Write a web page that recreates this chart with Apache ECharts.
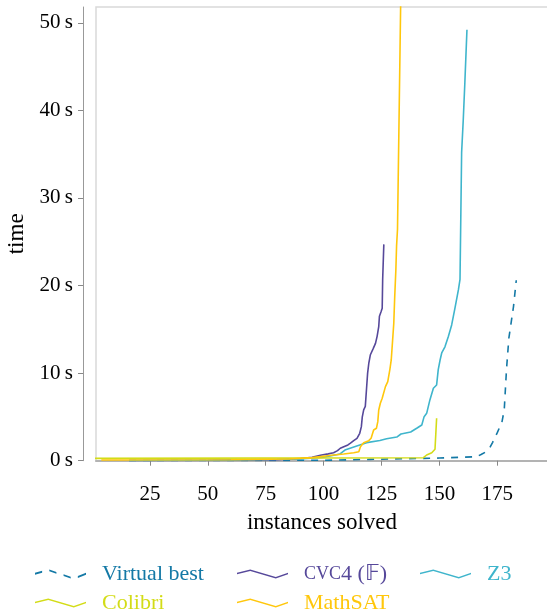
<!DOCTYPE html>
<html>
<head>
<meta charset="utf-8">
<script src="https://cdn.jsdelivr.net/npm/echarts@6/dist/echarts.min.js"></script>
<style>
  html, body { margin: 0; padding: 0; background: #fff; }
  #chart { width: 547px; height: 614px; }
</style>
</head>
<body>
<div id="chart"></div>
<script>
// tick labels
const xTicks = [25, 50, 75, 100, 125, 150, 175]
const yTicks = [0, 10, 20, 30, 40, 50]

// series names
const names = ['Virtual best', 'cvc4 (𝔽)', 'Z3', 'Colibri', 'MathSAT']

// [instances solved, time in s]
const virtualBest = [[16, 0.02], [60, 0.03], [100, 0.05], [120, 0.15], [140, 0.25], [150, 0.3], [160, 0.4], [166, 0.45],
  [168, 0.7], [170, 1.0], [172, 1.6], [173, 2.1], [175, 3.2], [176, 3.8], [177, 4.4], [178, 5.8], [179, 10.5],
  [180, 14], [181, 15.8], [182, 17.6], [183.2, 20.6]]
const cvc4 = [[16, 0.03], [50, 0.05], [80, 0.12], [90, 0.25], [95, 0.4], [98.6, 0.62], [102, 0.78], [104.3, 0.91],
  [106, 1.15], [107.2, 1.42], [108.7, 1.6], [110.5, 1.8], [111.6, 2.0], [113, 2.29], [114.4, 2.56], [115.6, 3.13],
  [116.3, 3.89], [116.7, 5.0], [117.3, 5.8], [118, 6.2], [118.5, 8.1], [119, 10], [119.5, 11.1], [120.2, 12.1],
  [121.4, 12.8], [122.4, 13.4], [123.1, 14.2], [123.8, 15.3], [124.1, 16.5], [124.8, 17.0], [125.3, 17.4],
  [125.5, 20.7], [126, 24.7]]
const z3 = [[16, 0.03], [60, 0.08], [90, 0.2], [100, 0.4], [107.1, 0.77], [109.2, 1.22], [114.3, 1.68], [118.6, 2.06],
  [124.3, 2.3], [127.2, 2.5], [131.6, 2.7], [133.4, 3.05], [137.6, 3.28], [140.2, 3.7], [142.4, 4.08], [143.4, 5.03],
  [144.5, 5.41], [145.9, 6.94], [147.4, 8.27], [148.8, 8.65], [149.5, 10.4], [150.3, 11.5], [151, 12.3],
  [152.4, 13.0], [153.9, 14.2], [155.3, 15.5], [156.7, 17.4], [158.2, 19.5], [158.9, 20.7], [159.6, 35.2],
  [160.3, 38.9], [161, 43.2], [161.9, 49.2]]
const colibri = [[1, 0.27], [143.1, 0.34], [144.5, 0.65], [146.7, 0.91], [148.1, 1.3], [148.8, 4.85]]
const mathsat = [[4, 0.08], [60, 0.1], [85, 0.2], [95, 0.35], [104.4, 0.65], [108.7, 0.77], [113, 0.91], [115.2, 1.03],
  [115.9, 1.6], [117.3, 2.06], [119.5, 2.29], [120.5, 2.56], [121.6, 3.51], [122.8, 3.7], [123.4, 4.46],
  [123.8, 5.79], [124.5, 6.56], [125.3, 7.13], [126.7, 8.46], [127.7, 9.03], [128.6, 10.4], [129.2, 11.5],
  [129.7, 13.4], [130.3, 15.7], [130.7, 18.7], [131.2, 21.8], [131.5, 24.5], [131.9, 26.4], [133, 47], [134, 66]]

const colors = ['#1479a6', '#56489a', '#3fb5cc', '#d3dc17', '#ffc70c']
const serif = 'Liberation Serif'

// wavy legend glyphs
const waveSolid = 'path://M0,3 L13,0 L38,7 L50,3 L50,4.5 L38,8.5 L13,1.5 L0,4.5 Z'
const waveDashed = 'path://M0,3 L7,1.38 L7,2.88 L0,4.5 Z M14,0.28 L21,2.24 L21,3.74 L14,1.78 Z ' +
  'M28,4.2 L35,6.16 L35,7.66 L28,5.7 Z M42,5.67 L50,3 L50,4.5 L42,7.17 Z'

// legend slots: [left, top]
const legendSlots = [[35, 563], [237, 563], [420, 563], [35, 592], [237, 592]]

const chart = echarts.init(document.getElementById('chart'))

function legendBox(i) {
  const textStyle = { color: colors[i], fontFamily: serif, fontSize: 22, lineHeight: 22, padding: [0, 0, 0, 11] }
  if (i === 1) {
    textStyle.rich = {
      sc: { fontFamily: serif, fontSize: 18, color: colors[1] },
      n: { fontFamily: serif, fontSize: 22, color: colors[1] }
    }
  }
  return {
    orient: 'horizontal',
    left: legendSlots[i][0],
    top: legendSlots[i][1],
    padding: 0,
    itemWidth: 51,
    itemHeight: 9,
    symbolKeepAspect: false,
    selectedMode: false,
    data: [{ name: names[i], icon: i === 0 ? waveDashed : waveSolid }],
    itemStyle: { color: colors[i], borderWidth: 0 },
    formatter: function (name) {
      return name === names[1] ? '{sc|CVC}{n|4 (𝔽)}' : name
    },
    textStyle: textStyle
  }
}

const seriesData = [virtualBest, cvc4, z3, colibri, mathsat]

const option = {
  animation: false,
  color: colors,
  grid: {
    left: 96, top: 7, width: 452, height: 453.7,
    outerBoundsMode: 'none',
    containLabel: false,
    show: true, borderColor: '#d9d9d9', borderWidth: 1.5
  },
  legend: [0, 1, 2, 3, 4].map(legendBox),
  xAxis: {
    type: 'value',
    min: 1.7,
    max: 196.9,
    offset: 13,
    name: 'instances solved',
    nameLocation: 'middle',
    nameGap: 38,
    nameTextStyle: { fontFamily: serif, fontSize: 23, color: '#000' },
    splitLine: { show: false },
    axisLine: { show: true, lineStyle: { color: '#b3b3b3', width: 2 } },
    axisTick: { show: true, customValues: xTicks, length: 5, lineStyle: { color: '#888' } },
    axisLabel: { customValues: xTicks, fontFamily: serif, fontSize: 21, color: '#000', margin: 10 }
  },
  yAxis: {
    type: 'value',
    min: 0,
    max: 51.8,
    offset: 13,
    name: 'time',
    nameLocation: 'middle',
    nameRotate: 90,
    nameGap: 55,
    nameTextStyle: { fontFamily: serif, fontSize: 23, color: '#000' },
    splitLine: { show: false },
    axisLine: { show: true, lineStyle: { color: '#999', width: 1 } },
    axisTick: { show: true, customValues: yTicks, length: 5, lineStyle: { color: '#888' } },
    axisLabel: {
      customValues: yTicks, fontFamily: serif, fontSize: 21, color: '#000', margin: 10,
      formatter: function (v) { return v + '\u2009s' }
    }
  },
  series: seriesData.map(function (d, i) {
    return {
      name: names[i],
      type: 'line',
      data: d,
      showSymbol: false,
      symbol: 'none',
      clip: true,
      lineStyle: { color: colors[i], width: 1.6, type: i === 0 ? [7, 7] : 'solid' }
    }
  })
}

chart.setOption(option)
</script>
</body>
</html>
